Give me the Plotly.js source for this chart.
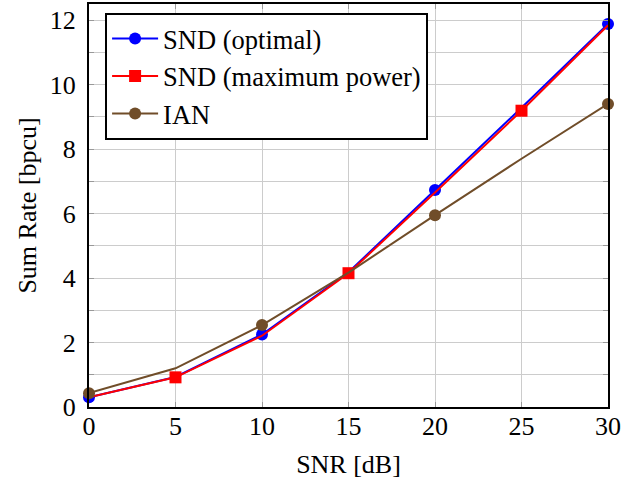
<!DOCTYPE html>
<html>
<head>
<meta charset="utf-8">
<script src="https://cdn.plot.ly/plotly-3.0.1.min.js"></script>
<style>html,body{margin:0;padding:0;background:#fff;}#chart{width:622px;height:479px;}</style>
</head>
<body>
<div id="chart"></div>
<script>
// Data
const snr = [0, 5, 10, 15, 20, 25, 30];
const sndOptimal = [0.30, 0.93, 2.25, 4.18, 6.73, 9.28, 11.88];
const sndMaxPower = [0.30, 0.92, 2.21, 4.15, 6.65, 9.19, 11.84];
const ian = [0.43, 1.20, 2.54, 4.17, 5.95, 7.70, 9.40];
const seriesNames = ['SND (optimal)', 'SND (maximum power)', 'IAN'];
// indices of points carrying a marker (pgfplots mark repeat)
const optimalMarks = [0, 2, 4, 6];
const maxPowerMarks = [1, 3, 5];
const ianMarks = [0, 2, 4, 6];
const xTicks = [0, 5, 10, 15, 20, 25, 30];
const yTicks = [0, 2, 4, 6, 8, 10, 12];

const FONT = 'Liberation Serif';
const styles = [
  {color: '#0000ff', symbol: 'circle', size: 12},
  {color: '#ff0000', symbol: 'square', size: 12},
  {color: '#704d29', symbol: 'circle', size: 12}
];
const allY = [sndOptimal, sndMaxPower, ian];
const marks = [optimalMarks, maxPowerMarks, ianMarks];

const traces = [];
for (let i = 0; i < 3; i++) {
  const st = styles[i];
  traces.push({
    x: snr, y: allY[i], mode: 'lines', showlegend: false,
    line: {color: st.color, width: 2}, hoverinfo: 'skip'
  });
  traces.push({
    x: marks[i].map(k => snr[k]), y: marks[i].map(k => allY[i][k]),
    mode: 'markers', showlegend: false, cliponaxis: false,
    marker: {color: st.color, symbol: st.symbol, size: st.size, line: {width: 0}}
  });
}
for (let i = 0; i < 3; i++) {
  const st = styles[i];
  traces.push({
    x: [null], y: [null], name: seriesNames[i], mode: 'lines+markers',
    line: {color: st.color, width: 2},
    marker: {color: st.color, symbol: st.symbol, size: st.size, line: {width: 0}}
  });
}

const layout = {
  width: 622, height: 479,
  margin: {l: 89, r: 14, t: 4, b: 72},
  paper_bgcolor: '#fff', plot_bgcolor: '#fff',
  font: {family: FONT, size: 26, color: '#000'},
  showlegend: true,
  legend: {
    x: 0.031, y: 0.978, xanchor: 'left', yanchor: 'top',
    bgcolor: '#fff', bordercolor: '#000', borderwidth: 2,
    font: {family: FONT, size: 26.5, color: '#000'},
    itemwidth: 46, tracegroupgap: 0
  },
  xaxis: {
    range: [0, 30], tickvals: xTicks, ticktext: xTicks.map(String),
    showgrid: true, gridcolor: '#cccccc', gridwidth: 1,
    showline: true, linecolor: '#000', linewidth: 2, mirror: 'allticks',
    ticks: 'inside', ticklen: 5, tickcolor: '#999', tickwidth: 1,
    zeroline: false, ticklabelstandoff: -5,
    tickfont: {family: FONT, size: 26, color: '#000'},
    title: {text: 'SNR [dB]', font: {family: FONT, size: 26, color: '#000'}, standoff: 17}
  },
  yaxis: {
    range: [0, 12.5], tickvals: yTicks, ticktext: yTicks.map(String),
    showgrid: true, gridcolor: '#cccccc', gridwidth: 1,
    minor: {dtick: 1, showgrid: true, gridcolor: '#cccccc', gridwidth: 1, ticks: 'inside', ticklen: 5, tickcolor: '#999'},
    showline: true, linecolor: '#000', linewidth: 2, mirror: 'allticks',
    ticks: 'inside', ticklen: 5, tickcolor: '#999', tickwidth: 1,
    zeroline: false, ticklabelstandoff: 6,
    tickfont: {family: FONT, size: 26, color: '#000'},
    title: {text: 'Sum Rate [bpcu]', font: {family: FONT, size: 26, color: '#000'}, standoff: 6}
  }
};

Plotly.newPlot('chart', traces, layout, {staticPlot: true, displayModeBar: false});
</script>
</body>
</html>
